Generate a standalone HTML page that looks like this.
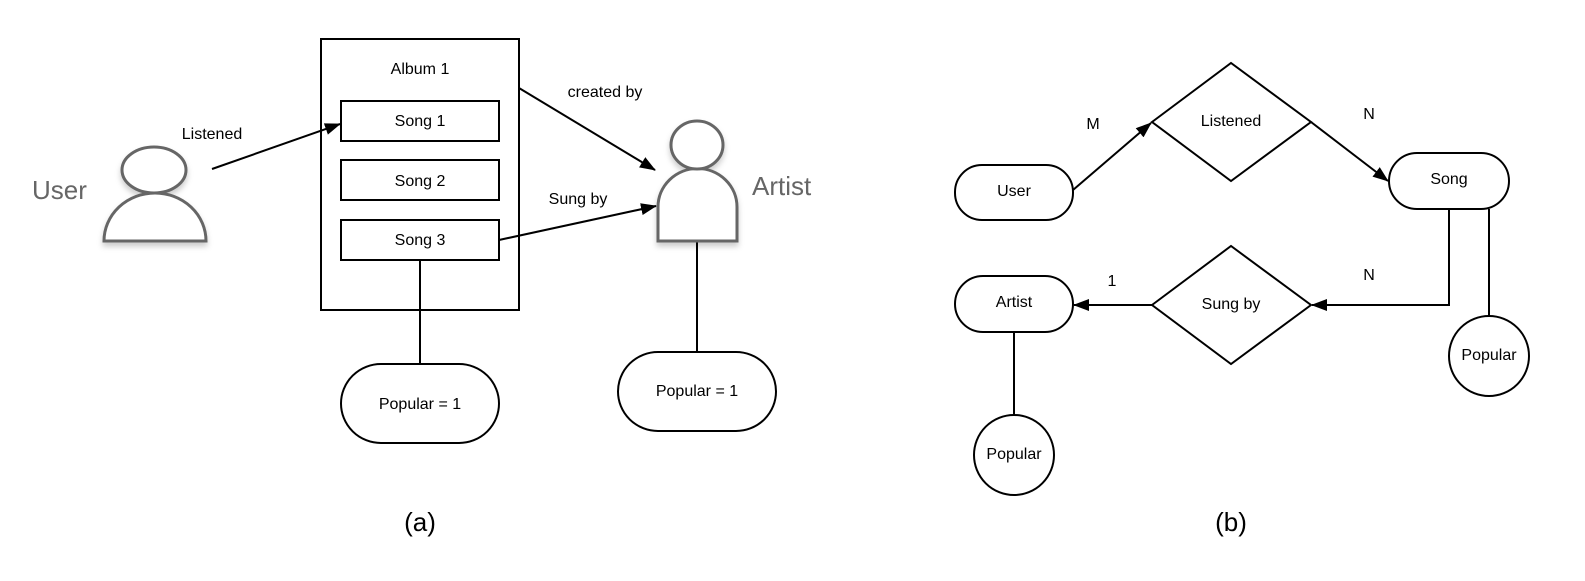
<!DOCTYPE html>
<html><head><meta charset="utf-8"><style>
html,body{margin:0;padding:0;background:#fff;overflow:hidden;width:1585px;height:581px}
svg{display:block}
svg text{font-family:"Liberation Sans",sans-serif}
</style></head><body>
<svg width="1585" height="581" viewBox="0 0 1585 581" xmlns="http://www.w3.org/2000/svg">
<defs>
<marker id="ar" markerWidth="16" markerHeight="12" refX="15" refY="6" orient="auto" markerUnits="userSpaceOnUse">
<path d="M0,0 L16,6 L0,12 z" fill="#000"/></marker>
<filter id="sh" x="-20%" y="-20%" width="140%" height="150%"><feDropShadow dx="0" dy="4" stdDeviation="3" flood-color="#000" flood-opacity="0.2"/></filter>
</defs>
<g fill="none" stroke="#000" stroke-width="2">
<rect x="321" y="39" width="198" height="271" fill="#fff"/>
<rect x="341" y="101" width="158" height="40"/>
<rect x="341" y="160" width="158" height="40"/>
<rect x="341" y="220" width="158" height="40"/>
<line x1="420" y1="260" x2="420" y2="364"/>
<rect x="341" y="364" width="158" height="79" rx="40" ry="40" fill="#fff"/>
<line x1="697" y1="242" x2="697" y2="352"/>
<rect x="618" y="352" width="158" height="79" rx="40" ry="40" fill="#fff"/>
<line x1="212" y1="169" x2="340" y2="124" marker-end="url(#ar)"/>
<line x1="519" y1="88" x2="655" y2="170" marker-end="url(#ar)"/>
<line x1="499" y1="240" x2="656" y2="206" marker-end="url(#ar)"/>
</g>
<g stroke="#666" stroke-width="3" fill="#fff" filter="url(#sh)">
<path d="M104,241 A51,48 0 0 1 206,241 Z"/>
<ellipse cx="154" cy="170" rx="32" ry="23"/>
<path d="M658,241 L658,207 A39,38 0 0 1 737,207 L737,241 Z"/>
<ellipse cx="697" cy="145" rx="26" ry="24"/>
</g>
<g font-size="16" fill="#000" text-anchor="middle">
<text x="420" y="74">Album 1</text>
<text x="420" y="126">Song 1</text>
<text x="420" y="186">Song 2</text>
<text x="420" y="245">Song 3</text>
<text x="420" y="409">Popular  = 1</text>
<text x="697" y="396">Popular = 1</text>
<text x="212" y="139">Listened</text>
<text x="605" y="97">created by</text>
<text x="578" y="204">Sung by</text>
</g>
<text x="32" y="199" font-size="26" fill="#666">User</text>
<text x="752" y="195" font-size="26" fill="#666">Artist</text>
<g fill="none" stroke="#000" stroke-width="2">
<rect x="955" y="165" width="118" height="55" rx="27" ry="27"/>
<polygon points="1152,122 1231,63 1311,122 1231,181"/>
<rect x="1389" y="153" width="120" height="56" rx="28" ry="28"/>
<polygon points="1152,305 1231,246 1311,305 1231,364"/>
<rect x="955" y="276" width="118" height="56" rx="28" ry="28"/>
<line x1="1073" y1="190" x2="1151" y2="123" marker-end="url(#ar)"/>
<line x1="1311" y1="122" x2="1388" y2="181" marker-end="url(#ar)"/>
<polyline points="1449,209 1449,305 1312,305" marker-end="url(#ar)"/>
<line x1="1152" y1="305" x2="1074" y2="305" marker-end="url(#ar)"/>
<line x1="1489" y1="209" x2="1489" y2="316"/>
<ellipse cx="1489" cy="356" rx="40" ry="40"/>
<line x1="1014" y1="332" x2="1014" y2="415"/>
<ellipse cx="1014" cy="455" rx="40" ry="40"/>
</g>
<g font-size="16" fill="#000" text-anchor="middle">
<text x="1014" y="196">User</text>
<text x="1231" y="126">Listened</text>
<text x="1449" y="184">Song</text>
<text x="1231" y="309">Sung by</text>
<text x="1014" y="307">Artist</text>
<text x="1489" y="360">Popular</text>
<text x="1014" y="459">Popular</text>
<text x="1093" y="129">M</text>
<text x="1369" y="119">N</text>
<text x="1369" y="280">N</text>
<text x="1112" y="286">1</text>
</g>
<g font-size="26" fill="#000" text-anchor="middle">
<text x="420" y="531">(a)</text>
<text x="1231" y="531">(b)</text>
</g>
</svg>
</body></html>
